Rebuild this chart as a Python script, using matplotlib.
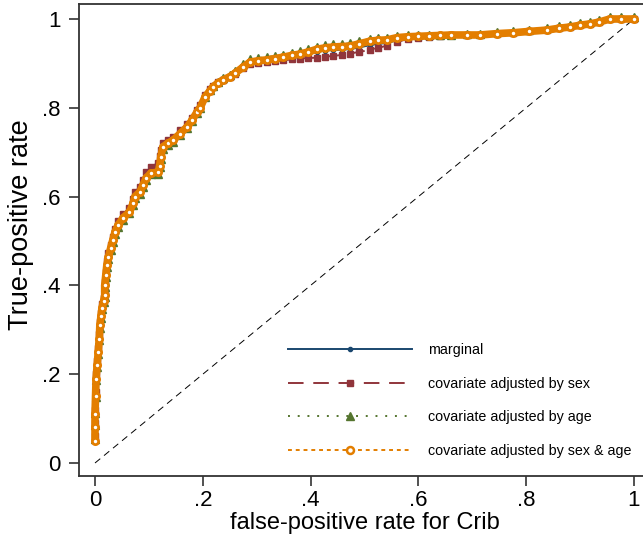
import numpy as np
import matplotlib.pyplot as plt
from matplotlib.lines import Line2D

plt.rcParams['font.family'] = ['Liberation Sans', 'DejaVu Sans']

# ROC points (false-positive rate, true-positive rate)
fpr = [0.000, 0.000, 0.000, 0.001, 0.002, 0.004, 0.006, 0.008, 0.009, 0.011,
       0.013, 0.016, 0.018, 0.018, 0.020, 0.022, 0.025, 0.029, 0.033, 0.037,
       0.043, 0.052, 0.064, 0.071, 0.074, 0.083, 0.089, 0.095, 0.104, 0.117,
       0.120, 0.122, 0.126, 0.135, 0.145, 0.158, 0.171, 0.180, 0.189, 0.195,
       0.204, 0.213, 0.219, 0.228, 0.238, 0.250, 0.260, 0.275, 0.288, 0.303,
       0.319, 0.334, 0.349, 0.365, 0.380, 0.396, 0.412, 0.427, 0.442, 0.458,
       0.473, 0.490, 0.510, 0.525, 0.542, 0.560, 0.580, 0.600, 0.620, 0.640,
       0.660, 0.690, 0.714, 0.745, 0.776, 0.805, 0.838, 0.860, 0.881, 0.900,
       0.918, 0.935, 0.955, 0.975, 1.000]

tpr_sexage = [0.050, 0.080, 0.110, 0.150, 0.190, 0.220, 0.250, 0.280, 0.310, 0.330,
              0.350, 0.365, 0.378, 0.400, 0.423, 0.446, 0.464, 0.484, 0.502, 0.520,
              0.536, 0.552, 0.565, 0.586, 0.600, 0.610, 0.626, 0.642, 0.653, 0.655,
              0.670, 0.689, 0.712, 0.720, 0.727, 0.742, 0.757, 0.772, 0.790, 0.800,
              0.824, 0.838, 0.847, 0.856, 0.863, 0.870, 0.878, 0.892, 0.903, 0.906,
              0.908, 0.911, 0.914, 0.918, 0.921, 0.926, 0.932, 0.935, 0.937, 0.938,
              0.939, 0.944, 0.950, 0.952, 0.953, 0.958, 0.960, 0.961, 0.962, 0.963,
              0.964, 0.964, 0.964, 0.967, 0.969, 0.972, 0.975, 0.979, 0.982, 0.986,
              0.989, 0.993, 1.000, 1.000, 1.000]

tpr_marginal = [0.050, 0.085, 0.115, 0.155, 0.195, 0.225, 0.255, 0.285, 0.312, 0.333,
                0.352, 0.368, 0.382, 0.404, 0.427, 0.450, 0.468, 0.488, 0.506, 0.524,
                0.540, 0.556, 0.570, 0.590, 0.604, 0.615, 0.632, 0.648, 0.660, 0.668,
                0.684, 0.700, 0.716, 0.724, 0.731, 0.746, 0.760, 0.775, 0.792, 0.803,
                0.826, 0.840, 0.849, 0.857, 0.864, 0.871, 0.879, 0.892, 0.902, 0.904,
                0.905, 0.907, 0.909, 0.912, 0.915, 0.920, 0.926, 0.929, 0.930, 0.931,
                0.932, 0.936, 0.941, 0.944, 0.946, 0.952, 0.956, 0.959, 0.961, 0.962,
                0.964, 0.965, 0.966, 0.968, 0.970, 0.973, 0.976, 0.979, 0.982, 0.986,
                0.989, 0.993, 1.000, 1.000, 1.000]

tpr_sex = [0.060, 0.090, 0.120, 0.160, 0.200, 0.230, 0.260, 0.290, 0.318, 0.338,
           0.357, 0.372, 0.386, 0.408, 0.431, 0.454, 0.472, 0.492, 0.510, 0.528,
           0.544, 0.560, 0.575, 0.595, 0.610, 0.622, 0.638, 0.655, 0.667, 0.676,
           0.692, 0.706, 0.720, 0.728, 0.735, 0.750, 0.764, 0.778, 0.795, 0.806,
           0.828, 0.842, 0.850, 0.857, 0.863, 0.869, 0.876, 0.889, 0.899, 0.902,
           0.903, 0.905, 0.907, 0.909, 0.911, 0.912, 0.913, 0.915, 0.917, 0.919,
           0.922, 0.926, 0.930, 0.935, 0.940, 0.948, 0.955, 0.958, 0.960, 0.961,
           0.963, 0.964, 0.965, 0.967, 0.969, 0.972, 0.975, 0.979, 0.982, 0.986,
           0.989, 0.993, 1.000, 1.000, 1.000]

tpr_age = [0.055, 0.085, 0.112, 0.148, 0.186, 0.216, 0.246, 0.276, 0.305, 0.326,
           0.346, 0.362, 0.374, 0.396, 0.419, 0.442, 0.460, 0.480, 0.498, 0.516,
           0.532, 0.548, 0.562, 0.582, 0.596, 0.606, 0.622, 0.638, 0.650, 0.652,
           0.666, 0.684, 0.708, 0.716, 0.723, 0.739, 0.754, 0.770, 0.789, 0.800,
           0.824, 0.839, 0.849, 0.859, 0.867, 0.875, 0.884, 0.898, 0.909, 0.912,
           0.914, 0.917, 0.920, 0.924, 0.927, 0.932, 0.938, 0.941, 0.943, 0.944,
           0.945, 0.950, 0.955, 0.957, 0.958, 0.961, 0.963, 0.963, 0.963, 0.964,
           0.965, 0.966, 0.967, 0.970, 0.973, 0.976, 0.980, 0.984, 0.987, 0.990,
           0.993, 0.997, 1.004, 1.004, 1.004]

ref_x = [0, 1]
ref_y = [0, 1]

navy = '#1a476f'
maroon = '#90353b'
green = '#55752f'
orange = '#e37e00'

fig = plt.figure(figsize=(6.43, 5.43), dpi=100)
ax = fig.add_axes([79 / 643, 67 / 543, 571 / 643, 472 / 543])

ax.plot(ref_x, ref_y, color='black', lw=0.7, dashes=(7, 5), zorder=1)

ax.plot(fpr, tpr_marginal, color=navy, lw=1.4, marker='o', ms=3, zorder=2)
ax.plot(fpr, tpr_sex, color=maroon, lw=1.4, dashes=(8, 5), marker='s', ms=5, zorder=3)
ax.plot(fpr, tpr_age, color=green, lw=1.4, dashes=(1, 4), marker='^', ms=5.5, zorder=4)
# overlapping markers in the original form a solid band
ax.plot(fpr, tpr_sexage, color=orange, lw=5.5, solid_capstyle='round', zorder=5)
ax.plot(fpr, tpr_sexage, color=orange, lw=1.4, dashes=(2, 2), marker='o', ms=4.5,
        mfc='white', mec=orange, mew=2, zorder=6)

ax.set_xlim(-16 / 539, 1 + 16 / 539)
ax.set_ylim(-13 / 444, 1 + 15 / 444)

ticks = [0, 0.2, 0.4, 0.6, 0.8, 1]
tick_labels = ['0', '.2', '.4', '.6', '.8', '1']
ax.set_xticks(ticks)
ax.set_xticklabels(tick_labels)
ax.set_yticks(ticks)
ax.set_yticklabels(tick_labels)
ax.tick_params(axis='both', labelsize=16, length=7, width=1.2, color='#333333')
ax.tick_params(axis='x', pad=3)
ax.tick_params(axis='y', pad=6)

for s in ax.spines.values():
    s.set_color('#333333')
    s.set_linewidth(1.3)

ax.set_xlabel('false-positive rate for Crib', fontsize=17, labelpad=1)
ax.set_ylabel('True-positive rate', fontsize=19.5)
ax.yaxis.set_label_coords(-0.079, 0.532)

handles = [
    Line2D([], [], color=navy, lw=1.4, marker='o', ms=3),
    Line2D([], [], color=maroon, lw=1.4, dashes=(8, 5), marker='s', ms=5),
    Line2D([], [], color=green, lw=1.4, dashes=(1, 4), marker='^', ms=5.5),
    Line2D([], [], color=orange, lw=1.4, dashes=(2, 2), marker='o', ms=5,
           mfc='white', mec=orange, mew=1.8),
]
labels = ['marginal', 'covariate adjusted by sex', 'covariate adjusted by age',
          'covariate adjusted by sex & age']
ax.legend(handles, labels, loc='upper left', bbox_to_anchor=(288 / 643, 1 - 343 / 543),
          bbox_transform=fig.transFigure, frameon=False, fontsize=10.3,
          handlelength=8.7, handletextpad=1.1, labelspacing=1.37, borderpad=0,
          borderaxespad=0, numpoints=1)

fig.savefig('out.png', dpi=100)
